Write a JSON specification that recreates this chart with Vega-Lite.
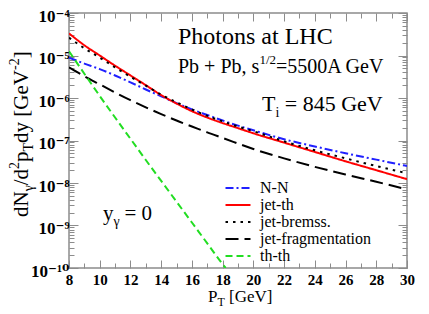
{
  "$schema": "https://vega.github.io/schema/vega-lite/v6.json",
  "width": 338,
  "height": 255,
  "autosize": "none",
  "padding": {"left": 69, "top": 13, "right": 22, "bottom": 46},
  "background": "white",
  "config": {
    "view": {"stroke": "#8c8c8c", "strokeWidth": 1.5},
    "font": "Liberation Serif, Times New Roman, DejaVu Serif, serif",
    "text": {"font": "Liberation Serif, Times New Roman, DejaVu Serif, serif"},
    "axis": {"grid": false, "domain": false, "tickColor": "#8c8c8c", "tickWidth": 1, "labelFlush": false, "labelOverlap": false, "labelBound": false}
  },
  "datasets": {
    "curves": [
      {"pt": 8, "dN": 8.91e-6, "series": "N-N"},
      {"pt": 9, "dN": 6.46e-6, "series": "N-N"},
      {"pt": 10, "dN": 4.79e-6, "series": "N-N"},
      {"pt": 11, "dN": 3.39e-6, "series": "N-N"},
      {"pt": 12, "dN": 2.34e-6, "series": "N-N"},
      {"pt": 13, "dN": 1.585e-6, "series": "N-N"},
      {"pt": 14, "dN": 1.096e-6, "series": "N-N"},
      {"pt": 15, "dN": 7.59e-7, "series": "N-N"},
      {"pt": 16, "dN": 5.37e-7, "series": "N-N"},
      {"pt": 17, "dN": 3.98e-7, "series": "N-N"},
      {"pt": 18, "dN": 2.95e-7, "series": "N-N"},
      {"pt": 19, "dN": 2.24e-7, "series": "N-N"},
      {"pt": 20, "dN": 1.74e-7, "series": "N-N"},
      {"pt": 22, "dN": 1.07e-7, "series": "N-N"},
      {"pt": 24, "dN": 7.24e-8, "series": "N-N"},
      {"pt": 26, "dN": 5.01e-8, "series": "N-N"},
      {"pt": 28, "dN": 3.55e-8, "series": "N-N"},
      {"pt": 30, "dN": 2.51e-8, "series": "N-N"},

      {"pt": 8, "dN": 3.31e-5, "series": "jet-th"},
      {"pt": 9, "dN": 1.74e-5, "series": "jet-th"},
      {"pt": 10, "dN": 1.0e-5, "series": "jet-th"},
      {"pt": 11, "dN": 5.75e-6, "series": "jet-th"},
      {"pt": 12, "dN": 3.39e-6, "series": "jet-th"},
      {"pt": 13, "dN": 2.0e-6, "series": "jet-th"},
      {"pt": 14, "dN": 1.17e-6, "series": "jet-th"},
      {"pt": 15, "dN": 7.41e-7, "series": "jet-th"},
      {"pt": 16, "dN": 4.9e-7, "series": "jet-th"},
      {"pt": 17, "dN": 3.47e-7, "series": "jet-th"},
      {"pt": 18, "dN": 2.57e-7, "series": "jet-th"},
      {"pt": 19, "dN": 1.95e-7, "series": "jet-th"},
      {"pt": 20, "dN": 1.48e-7, "series": "jet-th"},
      {"pt": 22, "dN": 8.91e-8, "series": "jet-th"},
      {"pt": 24, "dN": 5.37e-8, "series": "jet-th"},
      {"pt": 26, "dN": 3.24e-8, "series": "jet-th"},
      {"pt": 28, "dN": 2.0e-8, "series": "jet-th"},
      {"pt": 30, "dN": 1.23e-8, "series": "jet-th"},

      {"pt": 8, "dN": 2.63e-5, "series": "jet-bremss."},
      {"pt": 9, "dN": 1.48e-5, "series": "jet-bremss."},
      {"pt": 10, "dN": 8.91e-6, "series": "jet-bremss."},
      {"pt": 11, "dN": 5.25e-6, "series": "jet-bremss."},
      {"pt": 12, "dN": 3.16e-6, "series": "jet-bremss."},
      {"pt": 13, "dN": 1.95e-6, "series": "jet-bremss."},
      {"pt": 14, "dN": 1.2e-6, "series": "jet-bremss."},
      {"pt": 15, "dN": 7.94e-7, "series": "jet-bremss."},
      {"pt": 16, "dN": 5.37e-7, "series": "jet-bremss."},
      {"pt": 17, "dN": 3.8e-7, "series": "jet-bremss."},
      {"pt": 18, "dN": 2.82e-7, "series": "jet-bremss."},
      {"pt": 19, "dN": 2.14e-7, "series": "jet-bremss."},
      {"pt": 20, "dN": 1.66e-7, "series": "jet-bremss."},
      {"pt": 22, "dN": 9.55e-8, "series": "jet-bremss."},
      {"pt": 24, "dN": 5.89e-8, "series": "jet-bremss."},
      {"pt": 26, "dN": 3.8e-8, "series": "jet-bremss."},
      {"pt": 28, "dN": 2.51e-8, "series": "jet-bremss."},
      {"pt": 30, "dN": 1.7e-8, "series": "jet-bremss."},

      {"pt": 8, "dN": 5.25e-6, "series": "jet-fragmentation"},
      {"pt": 9, "dN": 3.24e-6, "series": "jet-fragmentation"},
      {"pt": 10, "dN": 2.09e-6, "series": "jet-fragmentation"},
      {"pt": 11, "dN": 1.35e-6, "series": "jet-fragmentation"},
      {"pt": 12, "dN": 8.91e-7, "series": "jet-fragmentation"},
      {"pt": 13, "dN": 6.03e-7, "series": "jet-fragmentation"},
      {"pt": 14, "dN": 4.17e-7, "series": "jet-fragmentation"},
      {"pt": 15, "dN": 2.95e-7, "series": "jet-fragmentation"},
      {"pt": 16, "dN": 2.14e-7, "series": "jet-fragmentation"},
      {"pt": 17, "dN": 1.55e-7, "series": "jet-fragmentation"},
      {"pt": 18, "dN": 1.15e-7, "series": "jet-fragmentation"},
      {"pt": 20, "dN": 6.31e-8, "series": "jet-fragmentation"},
      {"pt": 22, "dN": 3.8e-8, "series": "jet-fragmentation"},
      {"pt": 24, "dN": 2.4e-8, "series": "jet-fragmentation"},
      {"pt": 26, "dN": 1.585e-8, "series": "jet-fragmentation"},
      {"pt": 28, "dN": 1.07e-8, "series": "jet-fragmentation"},
      {"pt": 30, "dN": 7.08e-9, "series": "jet-fragmentation"},

      {"pt": 8, "dN": 1.26e-5, "series": "th-th"},
      {"pt": 9, "dN": 3.72e-6, "series": "th-th"},
      {"pt": 10, "dN": 1.12e-6, "series": "th-th"},
      {"pt": 11, "dN": 3.47e-7, "series": "th-th"},
      {"pt": 12, "dN": 1.1e-7, "series": "th-th"},
      {"pt": 13, "dN": 3.47e-8, "series": "th-th"},
      {"pt": 14, "dN": 1.12e-8, "series": "th-th"},
      {"pt": 15, "dN": 3.63e-9, "series": "th-th"},
      {"pt": 16, "dN": 1.175e-9, "series": "th-th"},
      {"pt": 17, "dN": 3.8e-10, "series": "th-th"},
      {"pt": 18, "dN": 1.23e-10, "series": "th-th"},
      {"pt": 18.2, "dN": 1.0e-10, "series": "th-th"}
    ]
  },
  "layer": [
    {
      "data": {"name": "curves"},
      "mark": {"type": "line", "clip": true, "interpolate": "monotone"},
      "encoding": {
        "x": {
          "field": "pt", "type": "quantitative",
          "scale": {"domain": [8, 30], "nice": false, "zero": false},
          "axis": {
            "orient": "bottom", "title": null,
            "values": [8,9,10,11,12,13,14,15,16,17,18,19,20,21,22,23,24,25,26,27,28,29,30],
            "tickSize": {"condition": {"test": "datum.value % 2 == 0", "value": -8}, "value": -5},
            "labelExpr": "datum.value % 2 == 0 ? datum.label : ''",
            "labelPadding": 12,
            "labelFont": "Liberation Serif, Times New Roman, DejaVu Serif, serif", "labelFontWeight": "bold", "labelFontSize": 15, "labelColor": "black"
          }
        },
        "y": {
          "field": "dN", "type": "quantitative",
          "scale": {"type": "log", "domain": [1e-10, 1e-4], "nice": false},
          "axis": {
            "orient": "left", "title": null,
            "values": [1e-10,2e-10,3e-10,4e-10,5e-10,6e-10,7e-10,8e-10,9e-10,1e-9,2e-9,3e-9,4e-9,5e-9,6e-9,7e-9,8e-9,9e-9,1e-8,2e-8,3e-8,4e-8,5e-8,6e-8,7e-8,8e-8,9e-8,1e-7,2e-7,3e-7,4e-7,5e-7,6e-7,7e-7,8e-7,9e-7,1e-6,2e-6,3e-6,4e-6,5e-6,6e-6,7e-6,8e-6,9e-6,1e-5,2e-5,3e-5,4e-5,5e-5,6e-5,7e-5,8e-5,9e-5,1e-4],
            "tickSize": {"condition": {"test": "abs(log(datum.value)/LN10 - round(log(datum.value)/LN10)) < 0.01", "value": -9}, "value": -5},
            "labelExpr": "abs(log(datum.value)/LN10 - round(log(datum.value)/LN10)) < 0.01 ? ['10⁻¹⁰','10⁻⁹','10⁻⁸','10⁻⁷','10⁻⁶','10⁻⁵','10⁻⁴'][round(log(datum.value)/LN10)+10] : ''",
            "labelPadding": 9,
            "labelOffset": 3,
            "labelFont": "Liberation Serif, Times New Roman, DejaVu Serif, serif", "labelFontWeight": "bold", "labelFontSize": 17, "labelColor": "black"
          }
        },
        "color": {
          "field": "series", "type": "nominal",
          "scale": {"domain": ["N-N", "jet-th", "jet-bremss.", "jet-fragmentation", "th-th"], "range": ["#2020ff", "#ff0000", "#000000", "#000000", "#22dd22"]},
          "legend": {
            "title": null, "orient": "none", "legendX": 161, "legendY": 167,
            "symbolType": "M-2,0H2", "symbolSize": 156,
            "labelFont": "Liberation Serif, Times New Roman, DejaVu Serif, serif", "labelFontSize": 16, "labelColor": "black",
            "labelOffset": 14, "rowPadding": 1, "padding": 0
          }
        },
        "strokeDash": {
          "field": "series", "type": "nominal",
          "scale": {"domain": ["N-N", "jet-th", "jet-bremss.", "jet-fragmentation", "th-th"], "range": [[8, 3, 2, 3], [1, 0], [2.5, 5], [13, 6], [7, 4]]}
        },
        "strokeWidth": {
          "field": "series", "type": "nominal",
          "scale": {"domain": ["N-N", "jet-th", "jet-bremss.", "jet-fragmentation", "th-th"], "range": [2, 2, 3, 2, 2]}
        }
      }
    },
    {
      "data": {"name": "curves"},
      "mark": {"type": "point", "opacity": 0},
      "encoding": {
        "x": {
          "field": "pt", "type": "quantitative",
          "axis": {
            "orient": "top", "title": null, "labels": false,
            "values": [8,9,10,11,12,13,14,15,16,17,18,19,20,21,22,23,24,25,26,27,28,29,30],
            "tickSize": {"condition": {"test": "datum.value % 2 == 0", "value": -8}, "value": -5}
          }
        },
        "y": {
          "field": "dN", "type": "quantitative",
          "axis": {
            "orient": "right", "title": null, "labels": false,
            "values": [1e-10,2e-10,3e-10,4e-10,5e-10,6e-10,7e-10,8e-10,9e-10,1e-9,2e-9,3e-9,4e-9,5e-9,6e-9,7e-9,8e-9,9e-9,1e-8,2e-8,3e-8,4e-8,5e-8,6e-8,7e-8,8e-8,9e-8,1e-7,2e-7,3e-7,4e-7,5e-7,6e-7,7e-7,8e-7,9e-7,1e-6,2e-6,3e-6,4e-6,5e-6,6e-6,7e-6,8e-6,9e-6,1e-5,2e-5,3e-5,4e-5,5e-5,6e-5,7e-5,8e-5,9e-5,1e-4],
            "tickSize": {"condition": {"test": "abs(log(datum.value)/LN10 - round(log(datum.value)/LN10)) < 0.01", "value": -9}, "value": -5}
          }
        }
      }
    },
    {
      "data": {"values": [{}]},
      "mark": {"type": "text", "text": "Photons at LHC", "align": "left", "baseline": "alphabetic", "fontSize": 24, "color": "black"},
      "encoding": {"x": {"datum": 15.094, "type": "quantitative", "axis": null}, "y": {"datum": 1.865e-5, "type": "quantitative", "axis": null}}
    },
    {
      "data": {"values": [{}]},
      "mark": {"type": "text", "text": "Pb + Pb, s", "align": "left", "baseline": "alphabetic", "fontSize": 20, "color": "black"},
      "encoding": {"x": {"datum": 15.094, "type": "quantitative", "axis": null}, "y": {"datum": 3.874e-6, "type": "quantitative", "axis": null}}
    },
    {
      "data": {"values": [{}]},
      "mark": {"type": "text", "text": "1/2", "align": "left", "baseline": "alphabetic", "fontSize": 13, "color": "black", "dx": 81.5, "dy": -9},
      "encoding": {"x": {"datum": 15.094, "type": "quantitative", "axis": null}, "y": {"datum": 3.874e-6, "type": "quantitative", "axis": null}}
    },
    {
      "data": {"values": [{}]},
      "mark": {"type": "text", "text": "=5500A GeV", "align": "left", "baseline": "alphabetic", "fontSize": 20, "color": "black", "dx": 98},
      "encoding": {"x": {"datum": 15.094, "type": "quantitative", "axis": null}, "y": {"datum": 3.874e-6, "type": "quantitative", "axis": null}}
    },
    {
      "data": {"values": [{}]},
      "mark": {"type": "text", "text": "T", "align": "left", "baseline": "alphabetic", "fontSize": 22, "color": "black"},
      "encoding": {"x": {"datum": 20.562, "type": "quantitative", "axis": null}, "y": {"datum": 4.943e-7, "type": "quantitative", "axis": null}}
    },
    {
      "data": {"values": [{}]},
      "mark": {"type": "text", "text": "i", "align": "left", "baseline": "alphabetic", "fontSize": 14, "color": "black", "dx": 13.4, "dy": 6},
      "encoding": {"x": {"datum": 20.562, "type": "quantitative", "axis": null}, "y": {"datum": 4.943e-7, "type": "quantitative", "axis": null}}
    },
    {
      "data": {"values": [{}]},
      "mark": {"type": "text", "text": "= 845 GeV", "align": "left", "baseline": "alphabetic", "fontSize": 22, "color": "black", "dx": 22.8},
      "encoding": {"x": {"datum": 20.562, "type": "quantitative", "axis": null}, "y": {"datum": 4.943e-7, "type": "quantitative", "axis": null}}
    },
    {
      "data": {"values": [{}]},
      "mark": {"type": "text", "text": "y", "align": "left", "baseline": "alphabetic", "fontSize": 21, "color": "black"},
      "encoding": {"x": {"datum": 10.213, "type": "quantitative", "axis": null}, "y": {"datum": 1.346e-9, "type": "quantitative", "axis": null}}
    },
    {
      "data": {"values": [{}]},
      "mark": {"type": "text", "text": "γ", "align": "left", "baseline": "alphabetic", "fontSize": 14, "color": "black", "dx": 10.5, "dy": 6},
      "encoding": {"x": {"datum": 10.213, "type": "quantitative", "axis": null}, "y": {"datum": 1.346e-9, "type": "quantitative", "axis": null}}
    },
    {
      "data": {"values": [{}]},
      "mark": {"type": "text", "text": "= 0", "align": "left", "baseline": "alphabetic", "fontSize": 21, "color": "black", "dx": 21.5},
      "encoding": {"x": {"datum": 10.213, "type": "quantitative", "axis": null}, "y": {"datum": 1.346e-9, "type": "quantitative", "axis": null}}
    },
    {
      "data": {"values": [{}]},
      "mark": {"type": "text", "text": "P", "align": "left", "baseline": "alphabetic", "fontSize": 17, "color": "black"},
      "encoding": {"x": {"datum": 17.047, "type": "quantitative", "axis": null}, "y": {"datum": 1.585e-11, "type": "quantitative", "axis": null}}
    },
    {
      "data": {"values": [{}]},
      "mark": {"type": "text", "text": "T", "align": "left", "baseline": "alphabetic", "fontSize": 12, "color": "black", "dx": 9.5, "dy": 4},
      "encoding": {"x": {"datum": 17.047, "type": "quantitative", "axis": null}, "y": {"datum": 1.585e-11, "type": "quantitative", "axis": null}}
    },
    {
      "data": {"values": [{}]},
      "mark": {"type": "text", "text": "[GeV]", "align": "left", "baseline": "alphabetic", "fontSize": 17, "color": "black", "dx": 21},
      "encoding": {"x": {"datum": 17.047, "type": "quantitative", "axis": null}, "y": {"datum": 1.585e-11, "type": "quantitative", "axis": null}}
    },
    {
      "data": {"values": [{}]},
      "mark": {"type": "text", "text": "dN", "angle": 270, "align": "left", "baseline": "alphabetic", "fontSize": 21, "color": "black"},
      "encoding": {"x": {"datum": 5.331, "type": "quantitative", "axis": null}, "y": {"datum": 1.585e-9, "type": "quantitative", "axis": null}}
    },
    {
      "data": {"values": [{}]},
      "mark": {"type": "text", "text": "γ", "angle": 270, "align": "left", "baseline": "alphabetic", "fontSize": 14, "color": "black", "dx": 25.7, "dy": 5},
      "encoding": {"x": {"datum": 5.331, "type": "quantitative", "axis": null}, "y": {"datum": 1.585e-9, "type": "quantitative", "axis": null}}
    },
    {
      "data": {"values": [{}]},
      "mark": {"type": "text", "text": "/d", "angle": 270, "align": "left", "baseline": "alphabetic", "fontSize": 21, "color": "black", "dx": 31.7},
      "encoding": {"x": {"datum": 5.331, "type": "quantitative", "axis": null}, "y": {"datum": 1.585e-9, "type": "quantitative", "axis": null}}
    },
    {
      "data": {"values": [{}]},
      "mark": {"type": "text", "text": "2", "angle": 270, "align": "left", "baseline": "alphabetic", "fontSize": 14, "color": "black", "dx": 48, "dy": -9},
      "encoding": {"x": {"datum": 5.331, "type": "quantitative", "axis": null}, "y": {"datum": 1.585e-9, "type": "quantitative", "axis": null}}
    },
    {
      "data": {"values": [{}]},
      "mark": {"type": "text", "text": "p", "angle": 270, "align": "left", "baseline": "alphabetic", "fontSize": 21, "color": "black", "dx": 55},
      "encoding": {"x": {"datum": 5.331, "type": "quantitative", "axis": null}, "y": {"datum": 1.585e-9, "type": "quantitative", "axis": null}}
    },
    {
      "data": {"values": [{}]},
      "mark": {"type": "text", "text": "T", "angle": 270, "align": "left", "baseline": "alphabetic", "fontSize": 14, "color": "black", "dx": 65.5, "dy": 5},
      "encoding": {"x": {"datum": 5.331, "type": "quantitative", "axis": null}, "y": {"datum": 1.585e-9, "type": "quantitative", "axis": null}}
    },
    {
      "data": {"values": [{}]},
      "mark": {"type": "text", "text": "dy [GeV", "angle": 270, "align": "left", "baseline": "alphabetic", "fontSize": 21, "color": "black", "dx": 74.1},
      "encoding": {"x": {"datum": 5.331, "type": "quantitative", "axis": null}, "y": {"datum": 1.585e-9, "type": "quantitative", "axis": null}}
    },
    {
      "data": {"values": [{}]},
      "mark": {"type": "text", "text": "-2", "angle": 270, "align": "left", "baseline": "alphabetic", "fontSize": 14, "color": "black", "dx": 147, "dy": -9},
      "encoding": {"x": {"datum": 5.331, "type": "quantitative", "axis": null}, "y": {"datum": 1.585e-9, "type": "quantitative", "axis": null}}
    },
    {
      "data": {"values": [{}]},
      "mark": {"type": "text", "text": "]", "angle": 270, "align": "left", "baseline": "alphabetic", "fontSize": 21, "color": "black", "dx": 158.7},
      "encoding": {"x": {"datum": 5.331, "type": "quantitative", "axis": null}, "y": {"datum": 1.585e-9, "type": "quantitative", "axis": null}}
    }
  ],
  "resolve": {"axis": {"x": "independent", "y": "independent"}}
}
